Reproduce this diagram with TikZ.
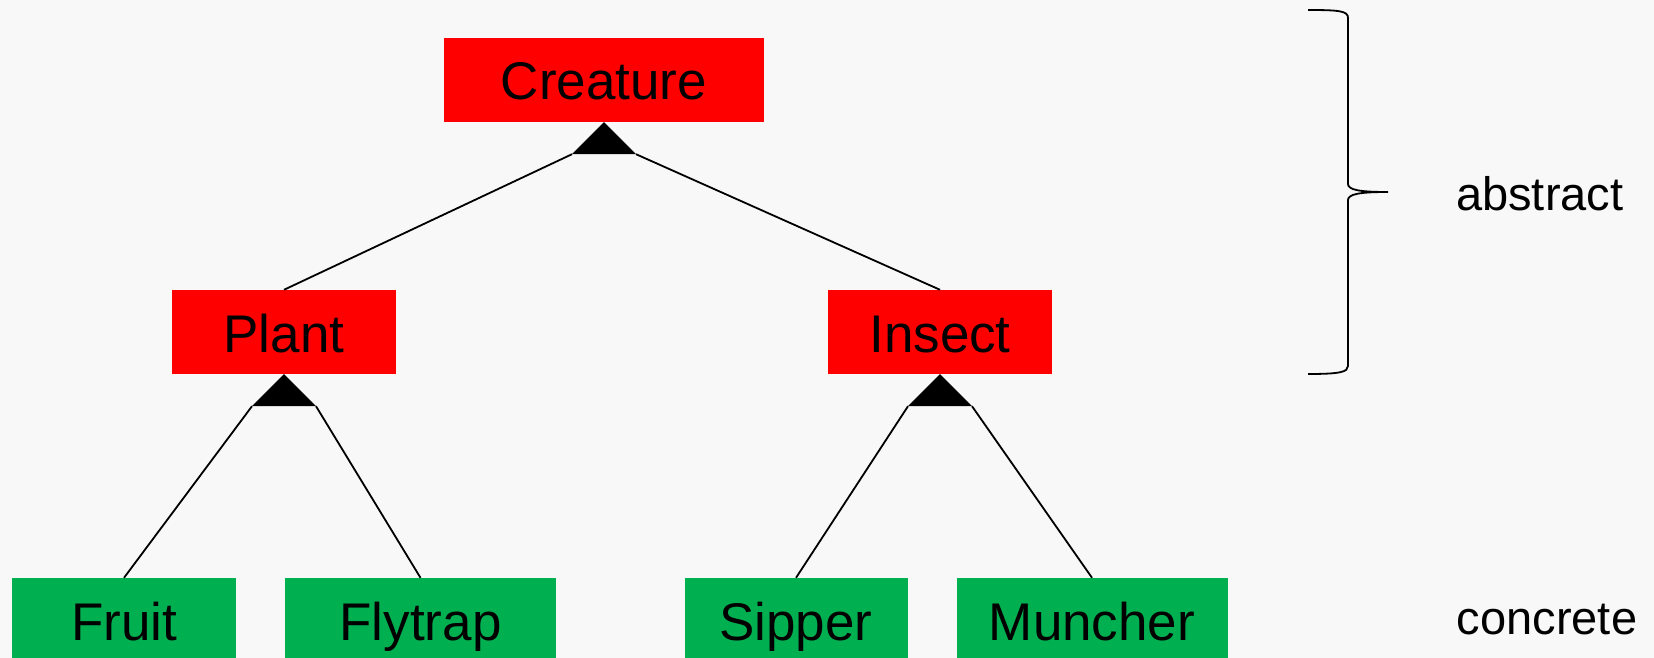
\documentclass[tikz,border=0pt]{standalone}
\usepackage{fontspec}
\setmainfont{Liberation Sans}
\definecolor{bgcol}{HTML}{F8F8F8}
\definecolor{absred}{HTML}{FF0000}
\definecolor{congreen}{HTML}{00B050}
\begin{document}
\begin{tikzpicture}[x=1pt,y=-1pt,
  cls/.style={rectangle,inner sep=0pt,text height=62pt,text depth=22pt,
    font=\fontsize{53}{60}\selectfont},
  abscls/.style={cls,fill=absred},
  concls/.style={cls,fill=congreen},
  inh/.style={fill=black},
  link/.style={line width=1.8pt},
  side/.style={font=\fontsize{47}{54}\selectfont,anchor=base west,inner sep=0pt}]
\fill[bgcol] (0,0) rectangle (1654,658);
\useasboundingbox (0,0) rectangle (1654,658);

% class boxes
\node[abscls,minimum width=320pt] (creature) at (604,80) {Creature};
\node[abscls,minimum width=224pt] (plant) at (284,332) {Plant};
\node[abscls,minimum width=224pt] (insect) at (940,332) {Insect};
\node[concls,minimum width=224pt] (fruit) at (124,620) {Fruit};
\node[concls,minimum width=271pt] (flytrap) at (420.5,620) {Flytrap};
\node[concls,minimum width=223pt] (sipper) at (796,620) {Sipper};
\node[concls,minimum width=271pt] (muncher) at (1092,620) {Muncher};

% inheritance triangles under each parent
\foreach \p in {creature,plant,insect}{
  \fill[inh] (\p.south) -- ++(-32,32) coordinate (\p-l) -- ++(64,0) coordinate (\p-r) -- cycle;
}

% connectors
\draw[link] (creature-l) -- (plant.north);
\draw[link] (creature-r) -- (insect.north);
\draw[link] (plant-l) -- (fruit.north);
\draw[link] (plant-r) -- (flytrap.north);
\draw[link] (insect-l) -- (sipper.north);
\draw[link] (insect-r) -- (muncher.north);

% brace grouping the abstract levels
\draw[line width=1.8pt] (1308,10) .. controls (1340,10) and (1348,11) .. (1348,18)
  -- (1348,184) .. controls (1348,190) and (1360,192) .. (1388,192)
  .. controls (1360,192) and (1348,194) .. (1348,200)
  -- (1348,366) .. controls (1348,372) and (1340,374) .. (1308,374);

\node[side] (abstractlbl) at (1456,210.7) {abstract};
\node[side] (concretelbl) at (1456.7,634) {concrete};
\end{tikzpicture}
\end{document}
